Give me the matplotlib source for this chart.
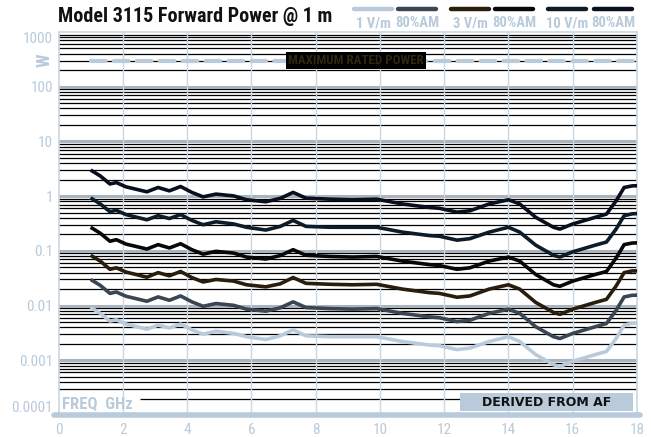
import matplotlib
matplotlib.use("Agg")
import matplotlib.pyplot as plt
from matplotlib import font_manager
from matplotlib.lines import Line2D
from matplotlib.patches import Rectangle

# frequency points (GHz)
freq = [1.0, 1.3, 1.6, 1.8, 2.1, 2.75, 3.1, 3.45, 3.8, 4.15, 4.5, 4.9, 5.45, 5.85,
        6.45, 6.9, 7.3, 7.7, 8.45, 9.15, 9.9, 10.7, 11.55, 11.85, 12.4, 12.8, 13.4,
        14.0, 14.35, 14.85, 15.4, 15.6, 16.0, 16.7, 17.05, 17.35, 17.6, 17.85, 18.0]

# forward power (W) for each field level
p_1vm = [0.0093, 0.0072, 0.0052, 0.0055, 0.0046, 0.0037, 0.0044, 0.0039, 0.0046, 0.0036,
         0.0030, 0.0034, 0.0031, 0.0027, 0.0024, 0.0028, 0.0036, 0.0028, 0.0027, 0.0027,
         0.0027, 0.0022, 0.0019, 0.00185, 0.00157, 0.00167, 0.0022, 0.0027, 0.0022, 0.00127,
         0.00083, 0.00077, 0.00096, 0.00127, 0.00145, 0.0025, 0.0044, 0.00475, 0.0048]
p_1vm_am = [0.030, 0.0234, 0.0167, 0.0177, 0.0148, 0.0120, 0.0144, 0.0125, 0.0150, 0.0117,
            0.0097, 0.0109, 0.0101, 0.0086, 0.0079, 0.0091, 0.0117, 0.0092, 0.0088, 0.0086,
            0.0088, 0.0072, 0.0062, 0.0060, 0.0051, 0.0054, 0.0072, 0.0086, 0.0072, 0.0041,
            0.0027, 0.0025, 0.0031, 0.0041, 0.0047, 0.0082, 0.0144, 0.0154, 0.0155]
p_3vm = [0.083, 0.065, 0.046, 0.049, 0.041, 0.033, 0.040, 0.035, 0.042, 0.0325,
         0.027, 0.030, 0.028, 0.024, 0.022, 0.025, 0.0325, 0.0255, 0.0245, 0.024,
         0.0245, 0.020, 0.0172, 0.0167, 0.0142, 0.015, 0.020, 0.024, 0.020, 0.0114,
         0.0075, 0.0069, 0.0086, 0.0114, 0.013, 0.0228, 0.040, 0.043, 0.043]
p_3vm_am = [0.27, 0.21, 0.15, 0.16, 0.133, 0.108, 0.13, 0.113, 0.135, 0.105,
            0.087, 0.098, 0.091, 0.077, 0.071, 0.082, 0.105, 0.083, 0.079, 0.077,
            0.079, 0.065, 0.056, 0.054, 0.046, 0.049, 0.065, 0.077, 0.065, 0.037,
            0.024, 0.0225, 0.028, 0.037, 0.042, 0.074, 0.13, 0.139, 0.14]
p_10vm = [0.93, 0.72, 0.52, 0.55, 0.46, 0.37, 0.44, 0.39, 0.46, 0.36,
          0.30, 0.34, 0.31, 0.27, 0.24, 0.28, 0.36, 0.28, 0.27, 0.27,
          0.27, 0.22, 0.19, 0.185, 0.157, 0.167, 0.22, 0.27, 0.22, 0.127,
          0.083, 0.077, 0.096, 0.127, 0.145, 0.25, 0.44, 0.475, 0.48]
p_10vm_am = [3.0, 2.34, 1.67, 1.77, 1.48, 1.20, 1.44, 1.25, 1.50, 1.17,
             0.97, 1.09, 1.01, 0.86, 0.79, 0.91, 1.17, 0.92, 0.88, 0.86,
             0.88, 0.72, 0.62, 0.60, 0.51, 0.54, 0.72, 0.86, 0.72, 0.41,
             0.27, 0.25, 0.31, 0.41, 0.47, 0.82, 1.44, 1.54, 1.55]

series = [p_1vm, p_1vm_am, p_3vm, p_3vm_am, p_10vm, p_10vm_am]
legend_labels = [("1 V/m", "80%AM"), ("3 V/m", "80%AM"), ("10 V/m", "80%AM")]
colors = ["#b9cbda", "#3b4653", "#2b1d0c", "#080808", "#0c1c29", "#0a0f20"]

x_ticks = [0, 2, 4, 6, 8, 10, 12, 14, 16, 18]
y_ticks = [1e-4, 1e-3, 1e-2, 1e-1, 1, 10, 100, 1000]
y_tick_labels = ["0.0001", "0.001", "0.01", "0.1", "1", "10", "100", "1000"]
max_power = 300

LIGHT = "#b9cbda"


def pick_narrow_font():
    fonts = font_manager.fontManager.ttflist
    names = {f.name for f in fonts}
    for n in ["Liberation Sans Narrow", "Roboto Condensed", "Open Sans Condensed",
              "Noto Sans Condensed", "DejaVu Sans Condensed"]:
        if n in names:
            return {"family": n}, 1.0
    for f in fonts:
        if f.stretch == "condensed" or f.stretch == "semi-condensed":
            return {"family": f.name, "stretch": f.stretch}, 1.0
    # nothing condensed around, use a narrow-ish face a bit smaller
    if "Roboto" in names:
        return {"family": "Roboto"}, 0.92
    return {"family": "DejaVu Sans"}, 0.82


NARROW, SCALE = pick_narrow_font()

fig = plt.figure(figsize=(6.51, 4.37), dpi=100)
ax = fig.add_axes([58.5 / 651, 22 / 437, (637 - 58.5) / 651, (415 - 32) / 437])
ax.set_yscale("log")
ax.set_xlim(0, 18)
ax.set_ylim(1e-4, 1000)

# horizontal grid: minor lines black, decades grey
for d in range(-4, 3):
    base = 10.0 ** d
    for m in range(2, 10):
        v = m * base
        if v < 3e-4:
            continue
        ax.axhline(v, color="black", lw=0.9, zorder=1)
    if -4 < d:
        ax.axhline(base, color="#aab4be", lw=2.2, zorder=1)
ax.hlines(2e-4, 2.55, 12.5, color="black", lw=0.9, zorder=1)

for xv in x_ticks[1:-1]:
    ax.axvline(xv, color="#c8d7e3", lw=1.0, zorder=1.5)

# maximum rated power
ax.plot([1, 18], [max_power, max_power], color=LIGHT, lw=3, ls=(0, (3.5, 2)),
        dash_capstyle="round", zorder=2)
ax.text(9.25, max_power, "MAXIMUM RATED POWER", fontsize=9.4 * SCALE, **NARROW,
        fontweight="bold", color="#30280e", ha="center", va="center", zorder=3,
        bbox=dict(boxstyle="square,pad=0.15", fc="black", ec="none"))

for vals, c in zip(series, colors):
    ax.plot(freq, vals, color=c, lw=2.6, solid_joinstyle="round",
            solid_capstyle="butt", zorder=4)

for s in ["left", "right", "top"]:
    ax.spines[s].set_color("#c8d7e3")
    ax.spines[s].set_linewidth(1.2)
ax.spines["bottom"].set_visible(False)
ax.plot([-0.15, 18.1], [1e-4, 1e-4], color=LIGHT, lw=4, solid_capstyle="round",
        clip_on=False, zorder=5)

ax.set_xticks(x_ticks)
ax.set_xticklabels([str(t) for t in x_ticks])
ax.set_yticks(y_ticks)
ax.set_yticklabels(y_tick_labels)
ax.minorticks_off()
ax.tick_params(axis="both", length=0, colors=LIGHT, labelsize=11 * SCALE)
ax.tick_params(axis="x", pad=6)
ax.tick_params(axis="y", pad=4)
for lab in ax.get_xticklabels() + ax.get_yticklabels():
    lab.set_fontfamily(NARROW["family"])
    if "stretch" in NARROW:
        lab.set_fontstretch(NARROW["stretch"])
ylabs = ax.get_yticklabels()
ylabs[0].set_va("bottom")
ylabs[-1].set_va("top")

ax.text(0.12, 1.55e-4, "FREQ  GHz", fontsize=12 * SCALE, **NARROW, fontweight="bold",
        color=LIGHT, ha="left", va="center", zorder=3)

ax.add_patch(Rectangle((12.48, 1.18e-4), 5.4, 1.33e-4, fc=LIGHT, ec="none", zorder=3))
ax.text(15.18, 1.7e-4, "DERIVED FROM AF", fontsize=9, fontweight="bold",
        color="#111111", ha="center", va="center", zorder=4)

fig.text(45 / 651, 1 - 60 / 437, "W", rotation=90, fontsize=13 * SCALE, fontweight="bold",
         **NARROW, color=LIGHT, ha="center", va="center")

fig.text(58 / 651, 1 - 17 / 437, "Model 3115 Forward Power @ 1 m", fontsize=14.5 * SCALE,
         fontweight="bold", **NARROW, color="#111111", ha="left", va="center")

# legend at top right
seg_x = [354, 398, 451, 495, 548, 594]
for i, c in enumerate(colors):
    x0 = seg_x[i] / 651
    fig.add_artist(Line2D([x0, x0 + 38 / 651], [1 - 8.5 / 437] * 2, color=c, lw=3.2,
                          solid_capstyle="round"))
for i, (a, b) in enumerate(legend_labels):
    fig.text((seg_x[2 * i] + 19) / 651, 1 - 23 / 437, a, fontsize=10.5 * SCALE,
             fontweight="bold", **NARROW, color=LIGHT, ha="center", va="center")
    fig.text((seg_x[2 * i + 1] + 19) / 651, 1 - 23 / 437, b, fontsize=10.5 * SCALE,
             fontweight="bold", **NARROW, color=LIGHT, ha="center", va="center")

fig.savefig("out.png", dpi=100)
